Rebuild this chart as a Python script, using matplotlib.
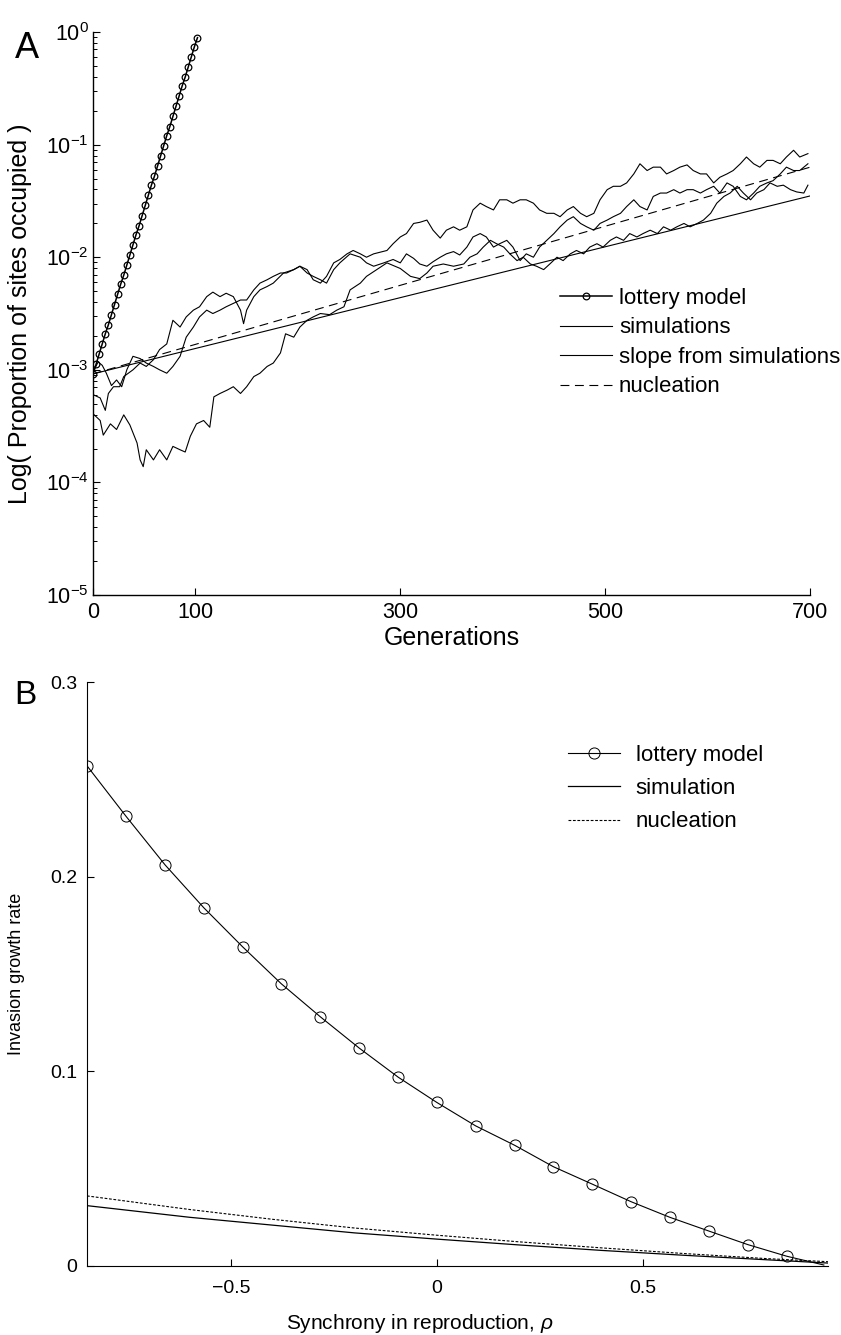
import matplotlib

matplotlib.use("Agg")
import matplotlib.pyplot as plt
import numpy as np
from matplotlib.ticker import FixedLocator, NullFormatter

plt.rcParams["font.family"] = ["Liberation Sans", "DejaVu Sans"]
plt.rcParams["mathtext.fontset"] = "custom"
plt.rcParams["mathtext.rm"] = "Liberation Sans"
plt.rcParams["mathtext.it"] = "Liberation Sans:italic"

# ---------------- Panel A: growth from rare (log scale) ----------------
lottery_gen = [0, 3, 6, 9, 12, 15, 18, 21, 24, 27, 30, 33, 36, 39, 42, 45, 48, 51,
               54, 57, 60, 63, 66, 69, 72, 75, 78, 81, 84, 87, 90, 93, 96, 99, 102]
lottery_log10 = [-3.04, -2.95, -2.86, -2.77, -2.68, -2.60, -2.51, -2.42, -2.33,
                 -2.24, -2.16, -2.07, -1.98, -1.89, -1.80, -1.72, -1.63, -1.54,
                 -1.45, -1.36, -1.28, -1.19, -1.10, -1.01, -0.92, -0.84, -0.75,
                 -0.66, -0.57, -0.48, -0.40, -0.31, -0.22, -0.13, -0.05]

sim_top_gen = [0, 7, 12, 15, 20, 26, 30, 39, 46, 52, 59, 65, 72, 78, 85, 91, 98, 104,
               111, 117, 124, 130, 137, 144, 147, 150, 157, 163, 170, 176, 186, 196,
               202, 209, 215, 222, 228, 235, 241, 248, 254, 261, 267, 274, 287, 293,
               300, 306, 313, 319, 326, 332, 339, 345, 352, 358, 365, 371, 378, 384,
               391, 397, 404, 410, 417, 423, 430, 436, 443, 450, 456, 463, 469, 476,
               482, 489, 495, 502, 508, 515, 521, 528, 534, 541, 547, 554, 560, 567,
               573, 580, 586, 593, 599, 606, 612, 619, 625, 632, 638, 645, 651, 658,
               664, 671, 677, 684, 690, 698]
sim_top_log10 = [-3.22, -3.25, -3.36, -3.21, -3.15, -3.15, -3.06, -3.00, -2.94, -2.97,
                 -2.91, -2.82, -2.77, -2.56, -2.62, -2.53, -2.47, -2.44, -2.35, -2.31,
                 -2.35, -2.32, -2.35, -2.47, -2.59, -2.47, -2.35, -2.29, -2.26, -2.23,
                 -2.14, -2.11, -2.08, -2.11, -2.20, -2.23, -2.17, -2.05, -2.02, -1.97,
                 -1.94, -1.97, -2.00, -1.97, -1.94, -1.88, -1.82, -1.79, -1.70, -1.69,
                 -1.67, -1.76, -1.83, -1.76, -1.73, -1.76, -1.73, -1.58, -1.52, -1.55,
                 -1.58, -1.49, -1.49, -1.52, -1.49, -1.49, -1.52, -1.58, -1.61, -1.61,
                 -1.64, -1.58, -1.55, -1.61, -1.64, -1.61, -1.49, -1.40, -1.37, -1.37,
                 -1.34, -1.26, -1.17, -1.23, -1.20, -1.20, -1.26, -1.23, -1.20, -1.18,
                 -1.23, -1.26, -1.26, -1.34, -1.29, -1.26, -1.23, -1.17, -1.11, -1.17,
                 -1.20, -1.14, -1.14, -1.17, -1.11, -1.05, -1.11, -1.08]

sim_mid_gen = [0, 5, 9, 13, 18, 23, 28, 33, 39, 46, 52, 59, 65, 72, 78, 85, 91, 98,
               104, 111, 117, 124, 130, 137, 144, 150, 157, 163, 170, 176, 183, 189,
               196, 202, 209, 215, 222, 228, 235, 241, 251, 261, 267, 274, 284, 293,
               300, 306, 313, 319, 326, 332, 339, 345, 352, 358, 365, 371, 378, 384,
               391, 397, 404, 410, 417, 423, 430, 436, 443, 450, 456, 463, 469, 476,
               482, 489, 495, 502, 508, 515, 521, 528, 534, 541, 547, 554, 560, 567,
               573, 580, 586, 593, 599, 606, 612, 619, 625, 632, 638, 645, 651, 658,
               664, 671, 677, 684, 690, 698]
sim_mid_log10 = [-3.02, -2.93, -2.96, -3.03, -3.14, -3.09, -3.15, -3.00, -2.88, -2.90,
                 -2.94, -2.97, -3.00, -3.03, -2.97, -2.88, -2.71, -2.62, -2.53, -2.47,
                 -2.50, -2.47, -2.44, -2.41, -2.38, -2.38, -2.29, -2.23, -2.20, -2.17,
                 -2.14, -2.14, -2.11, -2.08, -2.14, -2.17, -2.20, -2.23, -2.11, -2.05,
                 -1.97, -2.00, -2.05, -2.08, -2.05, -2.02, -2.05, -1.97, -2.01, -2.06,
                 -2.08, -2.04, -2.00, -1.97, -1.95, -1.98, -1.91, -1.82, -1.79, -1.82,
                 -1.91, -1.88, -1.85, -1.91, -2.03, -1.97, -2.00, -1.91, -1.85, -1.79,
                 -1.73, -1.67, -1.64, -1.70, -1.73, -1.76, -1.70, -1.67, -1.64, -1.61,
                 -1.55, -1.49, -1.55, -1.58, -1.46, -1.43, -1.43, -1.40, -1.43, -1.40,
                 -1.40, -1.43, -1.40, -1.37, -1.43, -1.34, -1.37, -1.46, -1.49, -1.43,
                 -1.37, -1.34, -1.32, -1.26, -1.20, -1.23, -1.23, -1.17]

sim_low_gen = [0, 7, 10, 17, 23, 30, 36, 43, 46, 49, 52, 59, 65, 72, 78, 85, 90, 95,
               101, 108, 114, 118, 124, 131, 137, 144, 150, 157, 163, 170, 176, 183,
               188, 196, 202, 209, 215, 222, 231, 238, 245, 251, 261, 267, 277, 287,
               300, 310, 319, 326, 332, 342, 352, 362, 368, 375, 381, 388, 394, 401,
               407, 414, 420, 427, 433, 440, 446, 453, 459, 466, 472, 479, 485, 492,
               498, 505, 511, 518, 524, 531, 537, 544, 551, 557, 564, 570, 577, 583,
               590, 596, 603, 609, 616, 622, 629, 635, 642, 648, 655, 661, 668, 674,
               681, 687, 694, 698]
sim_low_log10 = [-3.39, -3.45, -3.58, -3.48, -3.53, -3.40, -3.49, -3.65, -3.80, -3.86,
                 -3.71, -3.80, -3.71, -3.80, -3.68, -3.71, -3.73, -3.59, -3.48, -3.45,
                 -3.51, -3.24, -3.21, -3.18, -3.15, -3.21, -3.15, -3.06, -3.03, -2.97,
                 -2.94, -2.85, -2.68, -2.71, -2.62, -2.56, -2.53, -2.50, -2.51, -2.47,
                 -2.44, -2.29, -2.23, -2.17, -2.11, -2.05, -2.10, -2.17, -2.19, -2.14,
                 -2.08, -2.06, -2.08, -2.06, -2.00, -1.97, -1.91, -1.85, -1.88, -1.91,
                 -1.97, -2.03, -2.00, -2.06, -2.08, -2.11, -2.06, -2.00, -2.03, -1.97,
                 -1.94, -1.97, -1.91, -1.88, -1.91, -1.85, -1.82, -1.85, -1.79, -1.82,
                 -1.79, -1.76, -1.79, -1.73, -1.76, -1.73, -1.70, -1.73, -1.70, -1.67,
                 -1.61, -1.52, -1.46, -1.43, -1.37, -1.43, -1.49, -1.43, -1.40, -1.34,
                 -1.37, -1.36, -1.40, -1.42, -1.43, -1.36]

slope_gen = [0, 700]
slope_val = [0.00092, 0.035]
nucleation_gen = [0, 700]
nucleation_val = [0.00092, 0.063]

# ---------------- Panel B: invasion growth rate vs synchrony ----------------
rho_circles = [-0.85, -0.755, -0.66, -0.566, -0.472, -0.378, -0.283, -0.189, -0.094,
               0.0, 0.094, 0.189, 0.283, 0.378, 0.472, 0.566, 0.66, 0.755, 0.85]
lottery_rate = [0.257, 0.231, 0.206, 0.184, 0.164, 0.145, 0.128, 0.112, 0.097,
                0.084, 0.072, 0.062, 0.051, 0.042, 0.033, 0.025, 0.018, 0.011, 0.005]
lottery_end_rho = 0.94
lottery_end_rate = 0.0005

rho_curve = [-0.85, -0.6, -0.4, -0.2, 0.0, 0.2, 0.4, 0.6, 0.8, 0.95]
sim_rate = [0.031, 0.025, 0.021, 0.017, 0.0138, 0.0108, 0.0080, 0.0055, 0.0032, 0.0015]
nuc_rate = [0.036, 0.029, 0.024, 0.0195, 0.0158, 0.0124, 0.0093, 0.0064, 0.0038, 0.0022]

fig = plt.figure(figsize=(8.41, 13.35), dpi=100)
ax_a = fig.add_axes([0.1106, 0.5543, 0.8525, 0.4217])
ax_b = fig.add_axes([0.1034, 0.0517, 0.8811, 0.4374])

# Panel A
lw = 0.8
h_lot, = ax_a.plot(lottery_gen, 10 ** np.array(lottery_log10), "-o", color="black",
                   lw=1.1, ms=4.8, mfc="none", mew=0.9, label="lottery model")
h_sim, = ax_a.plot(sim_top_gen, 10 ** np.array(sim_top_log10), "-", color="black",
                   lw=lw, label="simulations")
ax_a.plot(sim_mid_gen, 10 ** np.array(sim_mid_log10), "-", color="black", lw=lw)
ax_a.plot(sim_low_gen, 10 ** np.array(sim_low_log10), "-", color="black", lw=lw)
h_slope, = ax_a.plot(slope_gen, slope_val, "-", color="black", lw=lw,
                     label="slope from simulations")
h_nuc, = ax_a.plot(nucleation_gen, nucleation_val, "--", color="black", lw=lw,
                   dashes=(8, 5), label="nucleation")

ax_a.set_yscale("log")
ax_a.set_xlim(0, 700)
ax_a.set_ylim(1e-5, 1e0)
ax_a.xaxis.set_major_locator(FixedLocator([0, 100, 300, 500, 700]))
ax_a.yaxis.set_major_locator(FixedLocator([1e-5, 1e-4, 1e-3, 1e-2, 1e-1, 1e0]))
ax_a.set_yticklabels([r"$10^{-5}$", r"$10^{-4}$", r"$10^{-3}$", r"$10^{-2}$",
                      r"$10^{-1}$", r"$10^{0}$"])
minor = [m * 10.0 ** e for e in range(-5, 0) for m in range(2, 10)]
ax_a.yaxis.set_minor_locator(FixedLocator(minor))
ax_a.yaxis.set_minor_formatter(NullFormatter())
ax_a.tick_params(axis="both", which="major", direction="in", length=5, width=0.8,
                 labelsize=15.5)
ax_a.tick_params(axis="x", pad=5)
ax_a.tick_params(axis="y", pad=3)
ax_a.tick_params(axis="y", which="minor", direction="in", length=3, width=0.7)
for side in ("top", "right"):
    ax_a.spines[side].set_visible(False)
for side in ("left", "bottom"):
    ax_a.spines[side].set_linewidth(1.0)
ax_a.set_xlabel("Generations", fontsize=18)
ax_a.xaxis.set_label_coords(0.5, -0.055)
ax_a.set_ylabel("Log( Proportion of sites occupied )", fontsize=18)
ax_a.yaxis.set_label_coords(-0.085, 0.5)

ax_a.legend(handles=[h_lot, h_sim, h_slope, h_nuc], loc="upper left",
            bbox_to_anchor=(560 / 841, 1 - 288 / 1335), bbox_transform=fig.transFigure,
            frameon=False, fontsize=16, handlelength=2.35, handletextpad=0.3,
            labelspacing=0.38, borderpad=0, borderaxespad=0)

fig.text(27 / 841, 1 - 48 / 1335, "A", fontsize=26, ha="center", va="center")

# Panel B
ax_b.plot(rho_circles + [lottery_end_rho], lottery_rate + [lottery_end_rate], "-",
          color="black", lw=0.8)
ax_b.plot(rho_circles, lottery_rate, "o", color="black", ms=8, mfc="none", mew=0.7)
h_blot, = ax_b.plot([], [], "-o", color="black", lw=0.8, ms=8, mfc="none", mew=0.7,
                    label="lottery model")
h_bsim, = ax_b.plot(rho_curve, sim_rate, "-", color="black", lw=0.9, label="simulation")
h_bnuc, = ax_b.plot(rho_curve, nuc_rate, "--", color="black", lw=0.8, dashes=(2.5, 1.5),
                    label="nucleation")

ax_b.set_xlim(-0.85, 0.95)
ax_b.set_ylim(0, 0.3)
ax_b.xaxis.set_major_locator(FixedLocator([-0.5, 0, 0.5]))
ax_b.set_xticklabels(["\u22120.5", "0", "0.5"])
ax_b.yaxis.set_major_locator(FixedLocator([0, 0.1, 0.2, 0.3]))
ax_b.set_yticklabels(["0", "0.1", "0.2", "0.3"])
ax_b.tick_params(axis="both", direction="in", length=5, width=0.8, labelsize=14)
ax_b.tick_params(axis="x", pad=10)
ax_b.tick_params(axis="y", pad=7)
for side in ("top", "right"):
    ax_b.spines[side].set_visible(False)
ax_b.set_xlabel("Synchrony in reproduction, $\\rho$", fontsize=15)
ax_b.xaxis.set_label_coords(0.449, -0.078)
ax_b.set_ylabel("Invasion growth rate", fontsize=13)
ax_b.yaxis.set_label_coords(-0.083, 0.5)

ax_b.legend(handles=[h_blot, h_bsim, h_bnuc], loc="upper left",
            bbox_to_anchor=(568 / 841, 1 - 745 / 1335), bbox_transform=fig.transFigure,
            frameon=False, fontsize=16, handlelength=2.35, handletextpad=0.7,
            labelspacing=0.55, borderpad=0, borderaxespad=0)

fig.text(25 / 841, 1 - 695 / 1335, "B", fontsize=24, ha="center", va="center")

fig.savefig("out.png", dpi=100)
